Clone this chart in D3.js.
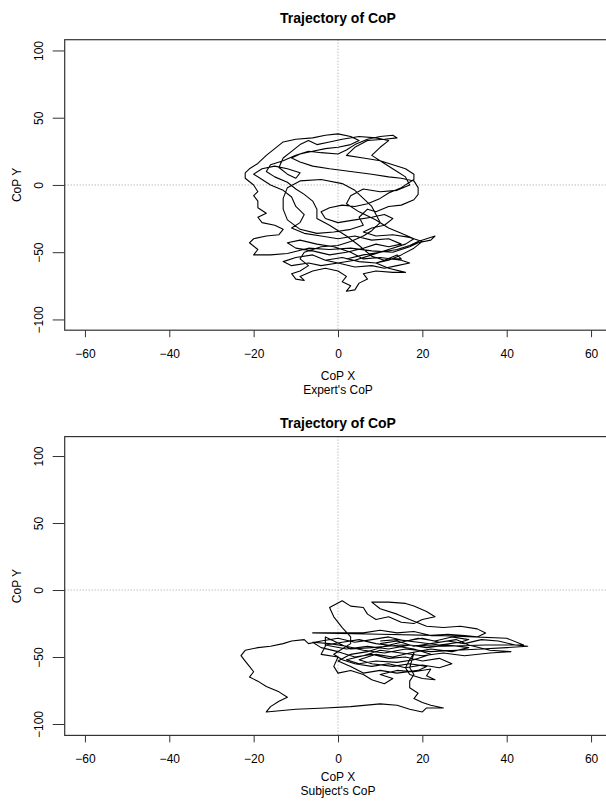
<!DOCTYPE html>
<html>
<head>
<meta charset="utf-8">
<script src="https://cdn.jsdelivr.net/npm/d3@7"></script>
<style>
  html, body { margin: 0; padding: 0; background: #fff; overflow: hidden; }
  svg { display: block; font-family: "Liberation Sans", Arial, sans-serif; }
</style>
</head>
<body>
<div id="chart"></div>
<script>
(() => {
  'use strict';

  // ── Data ──
  const xTicks = [-60, -40, -20, 0, 20, 40, 60];
  const yTicks = [-100, -50, 0, 50, 100];

  const expertX = [2, 6, 10, 14, 17, 19, 21, 23, 22, 19, 17, 13, 8, 3, -2, -7, -12, -16, -20, -19,
    -21, -20, -17, -14, -13, -15, -18, -19, -17, -19, -19, -20, -19, -20, -22, -22, -21, -19, -17, -15,
    -13, -10, -6, -3, 0, 3, 5, 3, 0, -3, -6, -9, -11, -9, -6, -2, 3, 8, 12, 15,
    18, 19, 19, 18, 15, 12, 9, 7, 5, 6, 3, -1, -5, -9, -12, -13, -13, -12, -9, -4,
    1, 4, 6, 8, 9, 10, 8, 6, 3, 0, -4, -8, -9, -7, -9, -11, -10, -8, -9, -6,
    -3, 0, 2, 1, 3, 2, 4, 5, 7, 6, 9, 13, 16, 12, 9, 12, 15, 14, 11, 8,
    5, 2, -2, -5, -5, -6, -8, -10, -12, -15, -17, -16, -13, -10, -7, -4, 0, 2, 4, 7,
    10, 13, 14, 11, 7, 4, 2, 6, 10, 13, 16, 18, 18, 15, 12, 10, 7, 4, 1, -2,
    -4, -3, 0, 4, 8, 11, 13, 11, 8, 6, 9, 13, 17, 20, 18, 15, 12, 9, 5, 1,
    -3, -6, -10, -13, -11, -7, -4, 0, 4, 8, 11, 14, 17, 15, 10, 6,
    3, -1, -5, -9, -12, -10, -6, -2, 2, 6, 9, 12, 15, 12, 8, 4, 0, -4, -8, -11,
    -9, -8, -10, -11, -13, -16, -18, -20, -18, -15, -12, -9, -10, -12, -14, -13, -11, -9, -7, -5,
    -2, 1, 5, 9, 12, 10, 8, 11, 14, 16, 17, 14, 10, 6, 3, 2, 5, 9, 12, 15,
    18, 16, 12, 8, 4, 0, -3];
  const expertY = [-55, -52, -50, -48, -45, -42, -40, -38, -41, -43, -46, -50, -49, -47, -48, -47, -51, -52, -52, -48,
    -43, -40, -38, -37, -33, -30, -28, -24, -21, -17, -12, -8, -5, 0, 5, 9, 12, 16, 22, 27,
    32, 34, 35, 37, 38, 36, 33, 30, 28, 27, 25, 23, 20, 17, 14, 12, 10, 8, 6, 5,
    3, -2, -7, -11, -15, -16, -20, -18, -24, -30, -33, -35, -36, -33, -26, -18, -10, -2, 3, 4,
    1, -4, -10, -16, -22, -28, -34, -38, -42, -45, -46, -50, -55, -60, -64, -66, -70, -71, -68, -64,
    -62, -64, -68, -72, -75, -79, -78, -73, -70, -66, -64, -65, -65, -62, -58, -55, -55, -52, -56, -53,
    -45, -38, -30, -25, -18, -12, -7, -3, 2, 6, 10, 15, 18, 22, 25, 24, 23, 26, 30, 34,
    36, 37, 35, 34, 33, 28, 22, 20, 18, 15, 12, 8, 4, -2, -6, -10, -14, -16, -15, -17,
    -20, -25, -28, -26, -24, -22, -25, -30, -32, -35, -38, -37, -39, -42, -47, -52, -56, -58, -57, -54,
    -56, -52, -54, -57, -60, -58, -60, -58, -61, -60, -62, -60, -58, -56, -54, -55,
    -50, -46, -44, -41, -43, -47, -49, -52, -50, -47, -44, -46, -44, -40, -41, -38, -40, -38, -36, -32,
    -28, -22, -16, -9, -4, 0, 4, 8, 12, 14, 12, 9, 5, 8, 13, 20, 25, 30, 33, 30,
    32, 34, 36, 35, 33, 28, 22, 16, 10, 6, 0, -4, -5, -3, -8, -14, -20, -26, -32, -36,
    -40, -44, -48, -52, -56, -58, -56];

  const subjectX = [10, 14, 18, 22, 26, 30, 34, 38, 42, 45, 40, 34, 28, 22, 16, 11, 6, 2, -2, -6,
    -4, 0, 4, 8, 12, 16, 20, 24, 27, 24, 20, 16, 12, 8, 4, 1, -1, 3, 3, 1,
    -1, -2, 1, 3, 6, 7, 9, 12, 15, 18, 20, 23, 21, 18, 16, 12, 8, 10, 14, 17,
    21, 25, 29, 33, 35, 33, 30, 26, 22, 18, 14, 10, 6, -6, 10, 25, 40, 44, 35, 25,
    15, 8, 3, -3, -3, -4, 0, -1, 0, 3, 6, 8, 11, 13, 10, 14, 18, 22, 21, 23,
    20, 17, 16, 17, 18, 17, 18, 17, 17, 19, 18, 20, 22, 25, 21, 20, 17, 14, 10, 3,
    -3, -10, -17, -16, -14, -12, -14, -17, -19, -21, -20, -21, -22, -23, -22, -19, -16, -13, -11, -8,
    -7, -4, 0, 4, 8, 12, 16, 20, 24, 28, 31, 36, 41, 36, 30, 25, 20, 15, 10, 6,
    2, 5, 9, 14, 18, 22, 18, 14, 9,
    5, 1, -3, 2, 7, 12, 17, 21, 26, 31, 27, 22, 17, 13, 9, 5, 8, 13, 17, 21,
    19, 14, 10, 6, 3, 0, 3, 7, 11, 15, 19, 23, 27, 31, 29, 24, 19, 14, 10];
  const subjectY = [-40, -38, -42, -40, -38, -40, -37, -38, -41, -42, -43, -44, -45, -46, -44, -47, -45, -42, -40, -39,
    -43, -46, -50, -48, -51, -50, -53, -51, -55, -58, -56, -58, -55, -57, -55, -52, -48, -40, -35, -28,
    -20, -13, -8, -12, -13, -18, -22, -20, -24, -25, -22, -20, -16, -12, -10, -9, -9, -14, -18, -22,
    -27, -28, -27, -29, -32, -35, -34, -33, -34, -31, -32, -30, -32, -32, -33, -34, -36, -41, -41, -42,
    -41, -43, -44, -35, -42, -48, -50, -57, -62, -60, -63, -67, -70, -66, -63, -60, -61, -59, -64, -67,
    -66, -63, -58, -52, -47, -58, -63, -68, -73, -77, -81, -84, -86, -88, -88, -91, -89, -86, -85, -87,
    -88, -89, -91, -87, -83, -80, -76, -72, -68, -65, -61, -57, -53, -49, -45, -43, -42, -40, -38, -37,
    -40, -38, -36, -39, -37, -35, -38, -36, -39, -37, -41, -45, -46, -47, -49, -47, -49, -47, -45, -49,
    -52, -55, -53, -54, -52, -48, -44, -42, -40,
    -37, -39, -41, -44, -42, -44, -41, -43, -41, -43, -46, -44, -47, -50, -48, -52, -55, -57, -55, -57,
    -60, -62, -60, -62, -57, -53, -48, -46, -42, -39, -36, -38, -35, -37, -39, -41, -39, -37, -38];

  // ── Panels ──
  const W = 606, H = 801;
  const svg = d3.select('#chart').append('svg')
    .attr('width', W).attr('height', H);

  const font = '"Liberation Sans", Arial, sans-serif';

  drawPanel({
    top: 39.7, bottom: 330.2, yDomain: [-108, 108],
    xs: expertX, ys: expertY, caption: "Expert's CoP",
    titleY: 23, labelY: 380, captionY: 394
  });
  drawPanel({
    top: 436.6, bottom: 735.4, yDomain: [-108.5, 114.5],
    xs: subjectX, ys: subjectY, caption: "Subject's CoP",
    titleY: 428, labelY: 781, captionY: 795
  });

  function drawPanel(p) {
    const left = 64.7, right = 611.3;
    const x = d3.scaleLinear().domain([-64.8, 64.8]).range([left, right]);
    const y = d3.scaleLinear().domain(p.yDomain).range([p.bottom, p.top]);
    const g = svg.append('g');

    // Reference lines at 0
    g.append('line')
      .attr('x1', x(0)).attr('x2', x(0))
      .attr('y1', p.top).attr('y2', p.bottom)
      .attr('stroke', '#a0a0a0').attr('stroke-width', 1)
      .attr('stroke-dasharray', '1 2');
    g.append('line')
      .attr('x1', left).attr('x2', right)
      .attr('y1', y(0)).attr('y2', y(0))
      .attr('stroke', '#a0a0a0').attr('stroke-width', 1)
      .attr('stroke-dasharray', '1 2');

    // Trajectory
    const pts = p.xs.map((v, i) => [v, p.ys[i]]);
    g.append('path')
      .datum(pts)
      .attr('fill', 'none')
      .attr('stroke', '#000')
      .attr('stroke-width', 1.1)
      .attr('stroke-linejoin', 'round')
      .attr('d', d3.line().x(d => x(d[0])).y(d => y(d[1])));

    // Box
    g.append('rect')
      .attr('x', left).attr('y', p.top)
      .attr('width', right - left).attr('height', p.bottom - p.top)
      .attr('fill', 'none').attr('stroke', '#333').attr('stroke-width', 1.2);

    // X axis
    const xa = g.append('g')
      .attr('transform', `translate(0,${p.bottom})`)
      .call(d3.axisBottom(x).tickValues(xTicks).tickSize(7).tickPadding(12).tickSizeOuter(0));
    xa.select('.domain').remove();
    xa.selectAll('line').attr('stroke', '#333');
    xa.selectAll('text')
      .attr('fill', '#000').attr('font-size', '12px').attr('font-family', font);

    // Y axis
    const ya = g.append('g')
      .attr('transform', `translate(${left},0)`)
      .call(d3.axisLeft(y).tickValues(yTicks).tickSize(12).tickSizeOuter(0));
    ya.select('.domain').remove();
    ya.selectAll('line').attr('stroke', '#333');
    ya.selectAll('text')
      .attr('x', 0).attr('y', -22).attr('dy', null)
      .attr('transform', 'rotate(-90)')
      .attr('text-anchor', 'middle')
      .attr('fill', '#000').attr('font-size', '12px').attr('font-family', font);

    // Titles and labels
    const midX = (left + right) / 2;
    svg.append('text')
      .attr('x', midX).attr('y', p.titleY)
      .attr('text-anchor', 'middle')
      .attr('font-size', '14px').attr('font-weight', 'bold')
      .text('Trajectory of CoP');

    svg.append('text')
      .attr('x', midX).attr('y', p.labelY)
      .attr('text-anchor', 'middle').attr('font-size', '12px')
      .text('CoP X');

    svg.append('text')
      .attr('x', midX).attr('y', p.captionY)
      .attr('text-anchor', 'middle').attr('font-size', '12px')
      .text(p.caption);

    svg.append('text')
      .attr('transform', `translate(21,${(p.top + p.bottom) / 2}) rotate(-90)`)
      .attr('text-anchor', 'middle').attr('font-size', '12px')
      .text('CoP Y');
  }
})();
</script>
</body>
</html>
